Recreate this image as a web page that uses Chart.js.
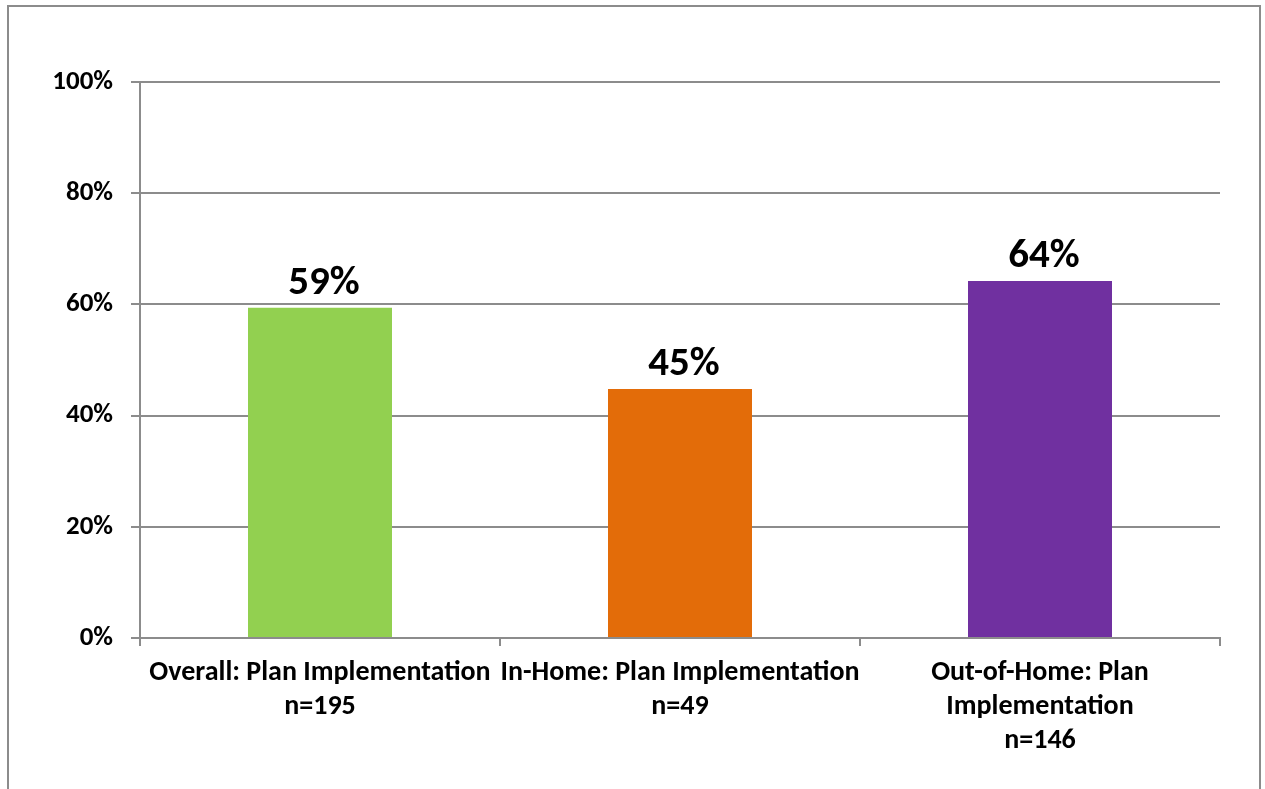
<!DOCTYPE html>
<html>
<head>
<meta charset="utf-8">
<script src="https://cdn.jsdelivr.net/npm/chart.js@4"></script>
<style>
  body { margin: 0; background: #fff; overflow: hidden; }
  #frame {
    position: absolute; left: 7px; top: 5px;
    width: 1250px; height: 800px;
    border: 2px solid #8c8c8c;
  }
  #wrap { position: absolute; left: 0; top: 0; width: 1265px; height: 789px; }
</style>
</head>
<body>
<div id="frame"></div>
<div id="wrap"><canvas id="barChart"></canvas></div>
<script>
// chart data
const categories = [
  ["Overall: Plan Implementation", "n=195"],
  ["In-Home: Plan Implementation", "n=49"],
  ["Out-of-Home: Plan", "Implementation", "n=146"],
];
const values = [59.4, 44.8, 64.2];
const valueLabels = ["59%", "45%", "64%"];
const barColors = ["#92D050", "#E36C09", "#7030A0"];

const FONT = "Calibri, Carlito, Lato, sans-serif";

// draws the percent labels above each bar
const barLabels = {
  id: "barLabels",
  afterDatasetsDraw(chart) {
    const ctx = chart.ctx;
    const meta = chart.getDatasetMeta(0);
    ctx.save();
    ctx.font = "bold 41px " + FONT;
    ctx.fillStyle = "#000";
    ctx.textAlign = "center";
    ctx.textBaseline = "alphabetic";
    meta.data.forEach((bar, i) => {
      ctx.fillText(valueLabels[i], bar.x + 4, bar.y - 14);
    });
    ctx.restore();
  },
};

const ctxBar = document.getElementById("barChart").getContext("2d");

const barChart = new Chart(ctxBar, {
  type: "bar",
  data: {
    labels: categories,
    datasets: [
      {
        data: values,
        backgroundColor: barColors,
        borderWidth: 0,
        categoryPercentage: 0.4,
        barPercentage: 1,
      },
    ],
  },
  options: {
    responsive: true,
    maintainAspectRatio: false,
    animation: false,
    layout: {
      padding: { left: 0, top: 82, right: 45, bottom: 0 },
    },
    plugins: {
      legend: { display: false },
      tooltip: { enabled: false },
    },
    scales: {
      x: {
        afterFit: (scale) => { scale.height = 151; },
        grid: {
          offset: true,
          drawOnChartArea: false,
          drawTicks: true,
          tickLength: 8,
          color: "#8c8c8c",
          lineWidth: 2,
        },
        border: { color: "#8c8c8c", width: 2 },
        ticks: {
          color: "#000",
          padding: 10,
          maxRotation: 0,
          autoSkip: false,
          font: { family: FONT, size: 28, weight: "bold", lineHeight: 1.22 },
        },
      },
      y: {
        min: 0,
        max: 100,
        afterFit: (scale) => { scale.width = 140; },
        grid: {
          color: "#8c8c8c",
          lineWidth: 2,
          tickLength: 9,
        },
        border: { color: "#8c8c8c", width: 2 },
        ticks: {
          stepSize: 20,
          color: "#000",
          padding: 18,
          callback: (v) => v + "%",
          font: { family: FONT, size: 27, weight: "bold" },
        },
      },
    },
  },
  plugins: [barLabels],
});
</script>
</body>
</html>
